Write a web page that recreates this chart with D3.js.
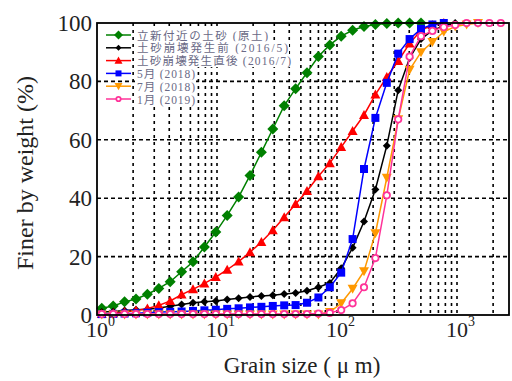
<!DOCTYPE html>
<html><head><meta charset="utf-8">
<script src="https://cdn.jsdelivr.net/npm/d3@7"></script>
<style>
html,body{margin:0;padding:0;background:#fff;}
svg{display:block;}
</style></head>
<body>
<svg id="chart" width="512" height="381"></svg>
<script>
// ---- data ----
const sizes = [1.096, 1.365, 1.698, 2.113, 2.630, 3.273, 4.074, 5.070, 6.310, 7.852,
  9.772, 12.16, 15.14, 18.84, 23.44, 29.17, 36.31, 45.19, 56.23, 69.98,
  87.10, 108.4, 134.9, 167.9, 208.9, 260.0, 323.6, 402.7, 501.2, 623.7,
  776.2, 966.1, 1202, 1496, 1862, 2317];
const seriesNames = ["立新付近の土砂 (原土)", "土砂崩壊発生前 (2016/5)", "土砂崩壊発生直後 (2016/7)", "5月 (2018)", "7月 (2018)", "1月 (2019)"];
const greenVals = [2.3, 3.1, 4.5, 5.5, 7.1, 9.1, 11.4, 14.8, 18.2, 23.3, 28.4, 34.1, 40.4, 47.8, 55.7, 63.7, 71.7, 77.5, 83, 88.5, 92.5, 95.5, 97.5, 98.8, 99.5, 99.8, 100, 100, 100];
const blackVals = [1, 1.2, 1.5, 1.8, 2, 2.4, 3, 3.6, 4.2, 4.5, 4.8, 5.3, 5.7, 6.2, 6.5, 6.8, 7.2, 7.5, 8.3, 9.5, 11, 16, 23, 32, 43, 58, 77, 88, 94.5, 97.5, 99, 100];
const redVals = [0.3, 0.6, 1, 1.5, 2.2, 3.3, 4.8, 7, 8.8, 10.8, 13, 15.5, 18.3, 21.5, 25, 29, 33.5, 38, 42.5, 47.5, 52, 57.5, 63, 68.5, 75.5, 81.5, 87, 93, 97.5, 99.3, 100];
const blueVals = [0.3, 0.4, 0.5, 0.6, 0.8, 1, 1.1, 1.2, 1.4, 1.6, 1.8, 2.1, 2.3, 2.6, 2.8, 3.1, 3.3, 3.4, 4.2, 6, 9.5, 14.5, 26, 50, 67.5, 79.5, 89.5, 94.5, 98, 99.5, 100];
const orangeVals = [0.2, 0.2, 0.2, 0.2, 0.2, 0.2, 0.2, 0.2, 0.2, 0.2, 0.2, 0.2, 0.2, 0.2, 0.2, 0.2, 0.2, 0.2, 0.2, 0.2, 1, 4, 9, 15, 28, 47, 67, 84, 90, 93.5, 97, 98.8, 99.5, 100];
const pinkVals = [0.3, 0.3, 0.3, 0.3, 0.3, 0.3, 0.3, 0.3, 0.3, 0.3, 0.3, 0.3, 0.3, 0.3, 0.3, 0.3, 0.3, 0.3, 0.3, 0.5, 0.7, 1.7, 4, 9.5, 19.5, 41, 67, 88.5, 95.5, 97.3, 98.6, 99.3, 100, 100, 100, 100];
const yTicks = [0, 20, 40, 60, 80, 100];
const xDecades = [1, 10, 100, 1000];
const xExponents = ["0", "1", "2", "3"];
const xTitle = "Grain size ( μ m)";
const yTitle = "Finer by weight (%)";

// ---- layout ----
const L = 97, R = 509, T = 23, B = 315;
const svg = d3.select("#chart");
const x = d3.scaleLog().domain([1, Math.pow(10, (R - L) / 120)]).range([L, R]);
const y = d3.scaleLinear().domain([0, 100]).range([B, T]);
const serif = "'Liberation Serif','Times New Roman',serif";

// grid
const minor = [];
for (const d of xDecades) for (let m = 1; m <= 9; m++) { const v = d * m; if (v > 1 && v < x.domain()[1]) minor.push(v); }
const grid = svg.append("g").attr("stroke", "#000").attr("stroke-width", 1.6);
grid.selectAll("line.v").data(minor).join("line").attr("class", "v").attr("stroke-dasharray", "3,4")
  .attr("x1", d => x(d)).attr("x2", d => x(d)).attr("y1", T).attr("y2", B);
grid.selectAll("line.h").data(yTicks.filter(t => t > 0 && t < 100)).join("line").attr("class", "h").attr("stroke-dasharray", "4,3")
  .attr("x1", L).attr("x2", R).attr("y1", d => y(d)).attr("y2", d => y(d));

// series
const series = [
  {vals: greenVals, color: "#008000", shape: "diamond", size: 11, fill: "#008000"},
  {vals: blackVals, color: "#000000", shape: "diamond", size: 8, fill: "#000000"},
  {vals: redVals, color: "#ff0000", shape: "up", size: 10, fill: "#ff0000"},
  {vals: blueVals, color: "#0000ff", shape: "square", size: 8, fill: "#0000ff"},
  {vals: orangeVals, color: "#ff9900", shape: "down", size: 10, fill: "#ff9900"},
  {vals: pinkVals, color: "#ff3399", shape: "circle", size: 8, fill: "#ffffff"}
];
function drawMarker(g, shape, s, color, fill) {
  const h = s / 2;
  if (shape === "circle") g.append("circle").attr("r", h - 0.8).attr("fill", fill).attr("stroke", color).attr("stroke-width", 1.8);
  else if (shape === "square") g.append("rect").attr("x", -h).attr("y", -h).attr("width", s).attr("height", s).attr("fill", fill);
  else if (shape === "diamond") g.append("path").attr("d", `M0,${-h}L${h},0L0,${h}L${-h},0Z`).attr("fill", fill);
  else if (shape === "up") g.append("path").attr("d", `M0,${-h}L${h},${h*0.8}L${-h},${h*0.8}Z`).attr("fill", fill);
  else if (shape === "down") g.append("path").attr("d", `M0,${h}L${h},${-h*0.8}L${-h},${-h*0.8}Z`).attr("fill", fill);
}
svg.append("clipPath").attr("id", "clip").append("rect").attr("x", L - 6).attr("y", T - 6).attr("width", R - L + 6).attr("height", B - T + 12);
const plot = svg.append("g").attr("clip-path", "url(#clip)");
const line = d3.line().x(d => x(d[0])).y(d => y(d[1]));
series.forEach(s => {
  const pts = s.vals.map((v, i) => [sizes[i], v]);
  const g = plot.append("g");
  g.append("path").attr("d", line(pts)).attr("fill", "none").attr("stroke", s.color).attr("stroke-width", 1.5);
  pts.forEach(p => {
    const m = g.append("g").attr("transform", `translate(${x(p[0])},${y(p[1])})`);
    drawMarker(m, s.shape, s.size, s.color, s.fill);
  });
});

// frame
svg.append("rect").attr("x", L).attr("y", T).attr("width", R - L).attr("height", B - T)
  .attr("fill", "none").attr("stroke", "#000").attr("stroke-width", 1.8);

// y tick labels
svg.selectAll("text.yt").data(yTicks).join("text").attr("class", "yt")
  .attr("x", 92).attr("y", d => y(d) + 8).attr("text-anchor", "end")
  .attr("font-family", serif).attr("font-size", 23).attr("fill", "#222").text(d => d);

// x tick labels
xDecades.forEach((d, i) => {
  svg.append("text").attr("x", x(d)).attr("y", 337).attr("text-anchor", "middle")
    .attr("font-family", serif).attr("font-size", 22).attr("fill", "#222").text("10");
  svg.append("text").attr("x", x(d) + 11).attr("y", 326).attr("font-family", serif)
    .attr("font-size", 14).attr("fill", "#222").text(xExponents[i]);
});

// axis titles
svg.append("text").attr("x", 302).attr("y", 373).attr("text-anchor", "middle")
  .attr("font-family", serif).attr("font-size", 23).attr("fill", "#222").text(xTitle);
svg.append("text").attr("transform", "translate(33,173) rotate(-90)").attr("text-anchor", "middle")
  .attr("font-family", serif).attr("font-size", 24).attr("fill", "#222").text(yTitle);

// legend
const legY = [35, 47.8, 60.6, 73.4, 86.2, 99];
const legW = [131, 151, 154, 58, 58, 58];
series.forEach((s, i) => {
  const gy = legY[i];
  const g = svg.append("g");
  g.append("rect").attr("x", 135).attr("y", gy - 6.5).attr("width", legW[i] + 3).attr("height", 13).attr("fill", "#fff");
  g.append("line").attr("x1", 106).attr("x2", 131).attr("y1", gy).attr("y2", gy).attr("stroke", s.color).attr("stroke-width", 1.5);
  const m = g.append("g").attr("transform", `translate(118.5,${gy})`);
  drawMarker(m, s.shape, s.size - 2, s.color, s.fill);
  g.append("text").attr("x", 137).attr("y", gy + 4.5).attr("font-family", "'Liberation Serif','Noto Sans CJK JP',serif")
    .attr("font-size", 11.5).attr("fill", "#6a6a86").attr("textLength", legW[i]).attr("lengthAdjust", "spacing")
    .text(seriesNames[i]);
});
</script>
</body></html>
